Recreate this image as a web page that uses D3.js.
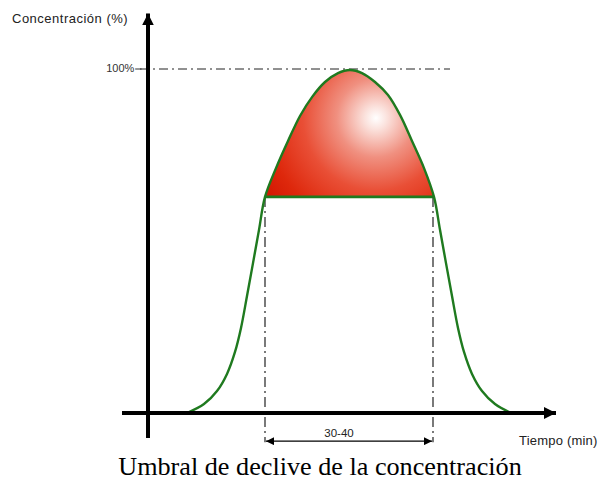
<!DOCTYPE html>
<html>
<head>
<meta charset="utf-8">
<script src="https://cdn.jsdelivr.net/npm/d3@7"></script>
<style>
  body { margin: 0; background: #fff; }
  svg { display: block; }
</style>
</head>
<body>
<div id="chart"></div>
<script>
// curve: time (arbitrary units) vs concentration (%)
const timeVals = [9.75, 14, 17.25, 19.75, 21.75, 23.25, 24.75, 26.25, 27.75, 29.25,
  32, 35, 38, 41, 44.25, 47.5, 50.5, 53.5, 56.75, 60, 63, 66, 69, 71.5,
  73, 74.5, 76, 77.5, 79, 81, 83.5, 86.75, 90.75];
const concVals = [0, 2.6, 6.4, 11.4, 17.8, 24.8, 34.1, 43.7, 53.4, 63,
  71.4, 79.3, 86.6, 92.1, 96.5, 99.1, 100, 99.1, 96.5, 92.7, 86.9, 79.3, 71.4, 63,
  53.4, 43.7, 34.1, 24.8, 17.8, 11.4, 6.4, 2.6, 0];
const thresholdLevel = 63;
const intervalStart = 29.25;
const intervalEnd = 71.25;
const intervalLabel = "30-40";
const peakLabel = "100%";
const yTitle = "Concentración (%)";
const xTitle = "Tiempo (min)";
const caption = "Umbral de declive de la concentración";

const w = 600, h = 484;

const xScale = d3.scaleLinear().domain([-6.5, 100]).range([122, 548]);
const yScale = d3.scaleLinear().domain([0, 100]).range([413, 70]);

const data = timeVals.map((t, i) => [t, concVals[i]]);

const svg = d3.select("#chart").append("svg")
  .attr("width", w)
  .attr("height", h);

const defs = svg.append("defs");

// shiny red fill, highlight up and to the right of the peak
const grad = defs.append("radialGradient")
  .attr("id", "domeFill")
  .attr("gradientUnits", "userSpaceOnUse")
  .attr("cx", xScale(57)).attr("cy", yScale(86))
  .attr("fx", xScale(57)).attr("fy", yScale(86))
  .attr("r", 140);
grad.append("stop").attr("offset", "0%").attr("stop-color", "#ffffff");
grad.append("stop").attr("offset", "8%").attr("stop-color", "#fbe2dd");
grad.append("stop").attr("offset", "28%").attr("stop-color", "#f09080");
grad.append("stop").attr("offset", "52%").attr("stop-color", "#e94f36");
grad.append("stop").attr("offset", "78%").attr("stop-color", "#de280c");
grad.append("stop").attr("offset", "100%").attr("stop-color", "#cf1400");

// arrow markers
function addMarker(id, dir, len, wid) {
  defs.append("marker")
    .attr("id", id)
    .attr("viewBox", "0 0 10 10")
    .attr("refX", dir === "end" ? 10 : 0).attr("refY", 5)
    .attr("markerWidth", len).attr("markerHeight", wid)
    .attr("markerUnits", "userSpaceOnUse")
    .attr("orient", "auto")
    .append("path")
    .attr("d", dir === "end" ? "M0,0L10,5L0,10Z" : "M10,0L0,5L10,10Z")
    .attr("fill", "#000");
}
addMarker("axisArr", "end", 12, 12);
addMarker("arrEnd", "end", 10, 8);
addMarker("arrStart", "start", 10, 8);

// clip for the part above the threshold
defs.append("clipPath").attr("id", "aboveClip")
  .append("rect")
  .attr("x", 0).attr("y", 0)
  .attr("width", w)
  .attr("height", yScale(thresholdLevel));

const curve = d3.curveCatmullRom.alpha(0.5);

const area = d3.area()
  .x(d => xScale(d[0]))
  .y0(yScale(thresholdLevel))
  .y1(d => yScale(d[1]))
  .curve(curve);

const line = d3.line()
  .x(d => xScale(d[0]))
  .y(d => yScale(d[1]))
  .curve(curve);

// dome fill
svg.append("path")
  .datum(data)
  .attr("d", area)
  .attr("clip-path", "url(#aboveClip)")
  .attr("fill", "url(#domeFill)");

// 100% guide line
svg.append("line")
  .attr("x1", xScale(-2)).attr("x2", xScale(75.5))
  .attr("y1", yScale(100) - 1).attr("y2", yScale(100) - 1)
  .attr("stroke", "#222")
  .attr("stroke-width", 1)
  .attr("stroke-dasharray", "9,4,2,4");

svg.append("text")
  .attr("x", xScale(-3.4))
  .attr("y", yScale(100) + 2)
  .attr("text-anchor", "end")
  .attr("font-family", "Arial, 'Liberation Sans', sans-serif")
  .attr("font-size", "11px")
  .attr("fill", "#333")
  .text(peakLabel);
svg.append("line")
  .attr("x1", xScale(-3.2)).attr("x2", xScale(-1.6))
  .attr("y1", yScale(100) - 1).attr("y2", yScale(100) - 1)
  .attr("stroke", "#333").attr("stroke-width", 1);

// vertical interval lines
[intervalStart, intervalEnd].forEach(t => {
  svg.append("line")
    .attr("x1", xScale(t)).attr("x2", xScale(t))
    .attr("y1", yScale(thresholdLevel)).attr("y2", yScale(-8.5))
    .attr("stroke", "#222")
    .attr("stroke-width", 1.2)
    .attr("stroke-dasharray", "10,4,2,4");
});

// green curve and threshold line
svg.append("path")
  .datum(data)
  .attr("d", line)
  .attr("fill", "none")
  .attr("stroke", "#1f7a1f")
  .attr("stroke-width", 2.4);

svg.append("line")
  .attr("x1", xScale(intervalStart)).attr("x2", xScale(intervalEnd + 0.25))
  .attr("y1", yScale(thresholdLevel)).attr("y2", yScale(thresholdLevel))
  .attr("stroke", "#1f7a1f")
  .attr("stroke-width", 2.6);

// axes (no ticks)
const xAxis = d3.axisBottom(xScale).tickValues([]).tickSizeOuter(0);
const gx = svg.append("g")
  .attr("transform", "translate(0," + yScale(0) + ")")
  .call(xAxis);

const yAxisScale = yScale.copy().domain([-7.3, 113]).range([yScale(-7.3), yScale(113)]);
const yAxis = d3.axisLeft(yAxisScale).tickValues([]).tickSizeOuter(0);
const gy = svg.append("g")
  .attr("transform", "translate(" + xScale(0) + ",0)")
  .call(yAxis);

// plain domain lines so the arrow markers point outward
gx.select(".domain")
  .attr("d", "M" + xScale.range()[0] + ",0H" + (xScale.range()[1] + 8))
  .attr("stroke", "#000")
  .attr("stroke-width", 4)
  .attr("marker-end", "url(#axisArr)");
gy.select(".domain")
  .attr("d", "M0," + yAxisScale.range()[0] + "V" + (yAxisScale.range()[1] - 12))
  .attr("stroke", "#000")
  .attr("stroke-width", 4)
  .attr("marker-end", "url(#axisArr)");

// interval double arrow
svg.append("line")
  .attr("x1", xScale(intervalStart) + 1).attr("x2", xScale(intervalEnd) - 1)
  .attr("y1", yScale(-8.2)).attr("y2", yScale(-8.2))
  .attr("stroke", "#000")
  .attr("stroke-width", 1.2)
  .attr("marker-start", "url(#arrStart)")
  .attr("marker-end", "url(#arrEnd)");

svg.append("text")
  .attr("x", xScale((intervalStart + intervalEnd) / 2 - 2.5))
  .attr("y", yScale(-7))
  .attr("text-anchor", "middle")
  .attr("font-family", "Arial, 'Liberation Sans', sans-serif")
  .attr("font-size", "11.5px")
  .attr("fill", "#222")
  .text(intervalLabel);

// axis titles
svg.append("text")
  .attr("x", 12).attr("y", 23)
  .attr("font-family", "Arial, 'Liberation Sans', sans-serif")
  .attr("font-size", "13px")
  .attr("letter-spacing", "0.5px")
  .attr("fill", "#222")
  .text(yTitle);

svg.append("text")
  .attr("x", 519).attr("y", 445)
  .attr("font-family", "Arial, 'Liberation Sans', sans-serif")
  .attr("font-size", "13px")
  .attr("letter-spacing", "0.2px")
  .attr("fill", "#222")
  .text(xTitle);

// caption
svg.append("text")
  .attr("x", 320).attr("y", 475)
  .attr("text-anchor", "middle")
  .attr("font-family", "'Times New Roman', 'Liberation Serif', serif")
  .attr("font-size", "26.2px")
  .attr("fill", "#000")
  .text(caption);
</script>
</body>
</html>
